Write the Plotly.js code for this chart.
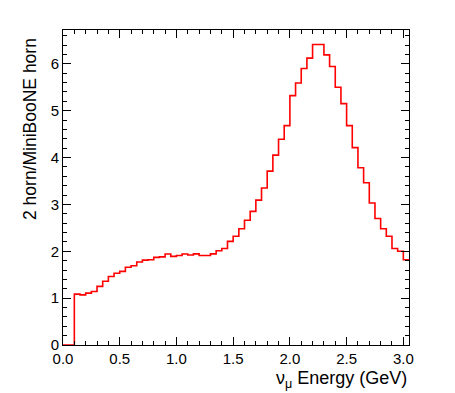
<!DOCTYPE html>
<html>
<head>
<meta charset="utf-8">
<script src="https://cdn.plot.ly/plotly-3.0.1.min.js"></script>
<style>
  body { margin: 0; padding: 0; background: #fff; }
  #graph { width: 455px; height: 393px; }
</style>
</head>
<body>
<div id="graph"></div>
<script>
// histogram binning (GeV)
var lowEdge = 0.0;
var binWidth = 0.05;

// ratio 2 horn / MiniBooNE horn, one value per bin
var ratio = [
    0, 0, 1.085, 1.07, 1.107, 1.14, 1.25, 1.36, 1.46, 1.53,
    1.57, 1.66, 1.69, 1.77, 1.81, 1.82, 1.87, 1.88, 1.94, 1.89,
    1.91, 1.94, 1.92, 1.945, 1.91, 1.91, 1.945, 2.01, 2.06, 2.21,
    2.32, 2.48, 2.66, 2.85, 3.09, 3.35, 3.71, 4.05, 4.39, 4.68,
    5.32, 5.59, 5.90, 6.12, 6.41, 6.41, 6.19, 5.94, 5.50, 5.15,
    4.68, 4.21, 3.78, 3.46, 3.03, 2.70, 2.48, 2.32, 2.06, 2.00,
    1.82
];

function drawGraph() {
    var xs = [], ys = [];
    // left edge of each bin, plus the right edge of the last one
    for (var i = 0; i < ratio.length; i++) {
        xs.push(lowEdge + i * binWidth);
        ys.push(ratio[i]);
    }
    xs.push(lowEdge + ratio.length * binWidth);
    ys.push(ratio[ratio.length - 1]);

    var trace = {
        x: xs,
        y: ys,
        type: 'scatter',
        mode: 'lines',
        line: { shape: 'hv', color: '#ff0000', width: 1.6 },
        hoverinfo: 'skip'
    };

    var fam = 'Liberation Sans, Arial, sans-serif';
    var axisFont = { family: fam, size: 15, color: '#000' };

    var layout = {
        width: 455,
        height: 393,
        margin: { l: 63, r: 46, t: 30, b: 48 },
        paper_bgcolor: '#fff',
        plot_bgcolor: '#fff',
        showlegend: false,
        font: axisFont,
        xaxis: {
            range: [0, 3.05],
            tick0: 0,
            dtick: 0.5,
            tickformat: '.1f',
            ticks: 'inside',
            ticklen: 8,
            tickcolor: '#000',
            showline: true,
            linecolor: '#000',
            linewidth: 1,
            mirror: 'allticks',
            showgrid: false,
            zeroline: false,
            tickfont: axisFont,
            minor: { dtick: 0.1, ticks: 'inside', ticklen: 4, tickcolor: '#000', showgrid: false }
        },
        yaxis: {
            range: [0, 6.72],
            tick0: 0,
            dtick: 1,
            ticks: 'inside',
            ticklen: 8,
            tickcolor: '#000',
            showline: true,
            linecolor: '#000',
            linewidth: 1,
            mirror: 'allticks',
            showgrid: false,
            zeroline: false,
            tickfont: axisFont,
            minor: { dtick: 0.2, ticks: 'inside', ticklen: 4, tickcolor: '#000', showgrid: false }
        },
        annotations: [
            {
                text: 'ν<sub>μ</sub> Energy (GeV)',
                xref: 'paper', yref: 'paper',
                x: 1, y: 0,
                xanchor: 'right', yanchor: 'top',
                yshift: -21,
                showarrow: false,
                font: { family: fam, size: 18, color: '#000' }
            },
            {
                text: '2 horn/MiniBooNE horn',
                xref: 'paper', yref: 'paper',
                x: 0, y: 1,
                xanchor: 'right', yanchor: 'top',
                xshift: -21,
                yshift: -6,
                textangle: -90,
                showarrow: false,
                font: { family: fam, size: 17.5, color: '#000' }
            }
        ]
    };

    Plotly.newPlot('graph', [trace], layout, { staticPlot: true, displayModeBar: false });
}

drawGraph();
</script>
</body>
</html>
